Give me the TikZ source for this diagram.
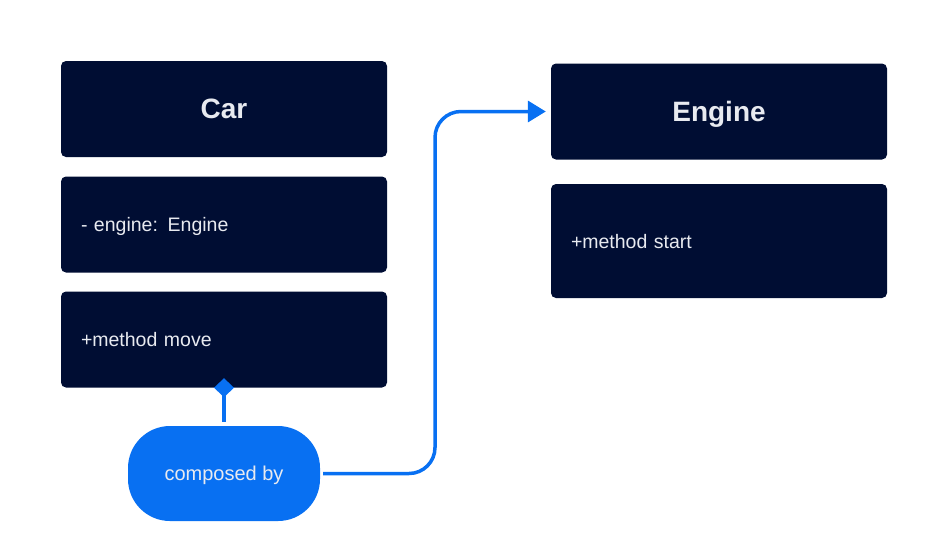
\documentclass[tikz,border=0pt]{standalone}
\usepackage{fontspec}
\setmainfont{Liberation Sans}
\usetikzlibrary{arrows.meta}
\definecolor{navy}{RGB}{0,13,51}
\definecolor{accent}{RGB}{8,112,242}
\definecolor{pale}{RGB}{232,234,240}
\begin{document}
\begin{tikzpicture}[x=1pt, y=-1pt,
  umlbox/.style={fill=navy, rounded corners=5pt, text=pale, minimum width=326pt,
    minimum height=96pt, inner sep=0pt, text depth=0pt},
  titlebox/.style={umlbox, font=\fontsize{28}{30}\selectfont\bfseries},
  memberbox/.style={umlbox, text width=286pt, align=left, inner xsep=20pt,
    font=\fontsize{19.5}{22}\selectfont},
  link/.style={accent, line width=3.5pt}]
  \useasboundingbox (0,0) rectangle (933,547);

  % Car class
  \node[titlebox] (car) at (224,109) {Car};
  \node[memberbox] (carfield) at (224,224.5) {- engine: Engine};
  \node[memberbox] (carmove) at (224,339.5) {+method move};

  % Engine class
  \node[titlebox, minimum width=336pt] (engine) at (719,111.5) {Engine};
  \node[memberbox, minimum width=336pt, text width=296pt, minimum height=114pt]
    (enginestart) at (719,241) {+method start};

  % Relation node
  \node[fill=accent, rounded corners=42pt, minimum width=192pt, minimum height=95pt,
    text=pale, text depth=0pt, font=\fontsize{20}{22}\selectfont]
    (comp) at (224,473.5) {composed by};
  \coordinate (bend) at (435,111.5);

  % Draw the connectors
  \draw[link, {Diamond[length=19pt, width=20pt]}-, shorten <=-9.5pt, shorten >=4pt]
    (carmove.south) -- (comp.north);
  \draw[link, -{Triangle[length=18pt, width=21pt]}, rounded corners=26pt,
    shorten <=3pt, shorten >=5pt]
    (comp.east) -| (bend) -- (engine.west);
\end{tikzpicture}
\end{document}
